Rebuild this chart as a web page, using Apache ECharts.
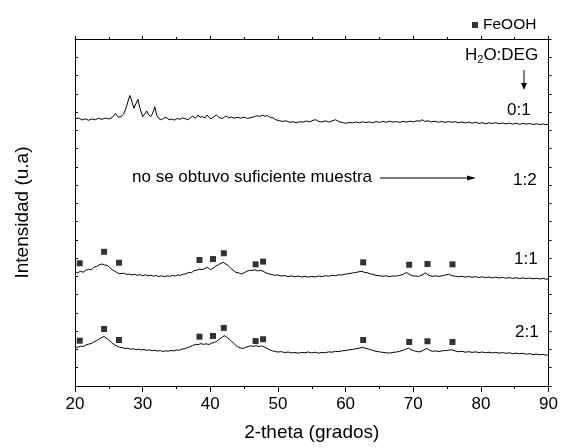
<!DOCTYPE html>
<html>
<head>
<meta charset="utf-8">
<script src="https://cdn.jsdelivr.net/npm/echarts@6/dist/echarts.min.js"></script>
<style>
  html, body { margin: 0; padding: 0; background: #fff; }
  #chart { width: 561px; height: 448px; }
</style>
</head>
<body>
<div id="chart"></div>
<script>
// 2-theta (deg) / intensity (a.u., patterns already stacked)
const trace01 = [
  [20, 1462], [20.5, 1468], [21, 1457], [21.5, 1463], [22, 1455], [22.5, 1462], [23, 1458],
  [23.5, 1466], [24, 1460], [24.5, 1467], [25, 1462], [25.5, 1470], [26, 1493], [26.4, 1472],
  [26.8, 1475], [27.2, 1489], [27.6, 1529], [28.1, 1591], [28.4, 1560], [28.7, 1521],
  [29.3, 1570], [29.6, 1520], [30, 1475], [30.3, 1488], [30.6, 1506], [30.9, 1484],
  [31.2, 1475], [31.5, 1495], [31.8, 1529], [32.1, 1480], [32.4, 1464], [32.8, 1458],
  [33.1, 1466], [33.5, 1471], [33.9, 1458], [34.3, 1462], [34.7, 1456], [35.1, 1465],
  [35.5, 1460], [35.9, 1468], [36.3, 1463], [36.7, 1458], [37.1, 1470], [37.4, 1478],
  [37.8, 1466], [38.2, 1484], [38.5, 1470], [38.8, 1476], [39.2, 1468], [39.5, 1484],
  [39.8, 1472], [40.1, 1463], [40.5, 1474], [40.9, 1484], [41.3, 1470], [41.8, 1465],
  [42.3, 1479], [42.7, 1468], [43.1, 1473], [43.5, 1466], [44, 1471], [44.5, 1467],
  [45, 1472], [45.5, 1465], [46, 1470], [46.5, 1474], [46.9, 1480], [47.3, 1476],
  [47.7, 1483], [48.1, 1477], [48.5, 1480], [48.9, 1470], [49.3, 1468], [49.7, 1458],
  [50.2, 1452], [50.7, 1449], [51.2, 1452], [51.7, 1444], [52.2, 1447], [52.7, 1441],
  [53.2, 1447], [53.7, 1445], [54.2, 1451], [54.7, 1446], [55.2, 1455], [55.6, 1458],
  [56, 1449], [56.5, 1446], [57, 1452], [57.5, 1445], [58, 1451], [58.5, 1458], [59, 1448],
  [59.5, 1443], [60, 1438], [60.5, 1444], [61, 1440], [61.5, 1446], [62, 1441], [62.5, 1447],
  [63, 1442], [63.5, 1446], [64, 1441], [64.5, 1448], [65, 1443], [65.5, 1449], [66, 1444],
  [66.5, 1450], [67, 1445], [67.5, 1448], [68, 1443], [68.5, 1449], [69, 1445], [69.5, 1450],
  [70, 1446], [70.5, 1452], [71, 1450], [71.3, 1458], [71.7, 1449], [72.2, 1452], [72.7, 1446],
  [73.2, 1450], [73.7, 1444], [74.2, 1449], [74.7, 1443], [75.2, 1448], [75.7, 1444],
  [76.2, 1447], [76.7, 1441], [77.2, 1446], [77.7, 1440], [78.2, 1445], [78.7, 1439],
  [79.2, 1444], [79.7, 1438], [80.2, 1442], [80.7, 1436], [81.2, 1441], [81.7, 1437],
  [82.2, 1442], [82.7, 1436], [83.2, 1440], [83.7, 1435], [84.2, 1440], [84.7, 1434],
  [85.2, 1439], [85.7, 1433], [86.2, 1438], [86.7, 1434], [87.2, 1437], [87.7, 1432],
  [88.2, 1436], [88.7, 1432], [89.2, 1435], [89.6, 1431], [90, 1433]
];
const trace11 = [
  [20, 626], [20.4, 620], [20.8, 628], [21.2, 623], [21.6, 634], [22, 639], [22.4, 636],
  [22.8, 650], [23.2, 655], [23.6, 664], [24, 668], [24.4, 662], [24.8, 660], [25.2, 646],
  [25.6, 634], [26, 626], [26.4, 617], [26.8, 615], [27.2, 618], [27.6, 611], [28, 613],
  [28.4, 608], [28.8, 612], [29.2, 606], [29.6, 610], [30, 604], [30.4, 609], [30.8, 603],
  [31.2, 607], [31.6, 601], [32, 605], [32.4, 599], [32.8, 604], [33.2, 598], [33.6, 603],
  [34, 600], [34.4, 606], [34.8, 602], [35.2, 608], [35.6, 606], [36, 612], [36.4, 614],
  [36.8, 622], [37.2, 620], [37.6, 632], [38, 634], [38.4, 640], [38.8, 637], [39.2, 644],
  [39.6, 650], [40, 637], [40.4, 645], [40.8, 656], [41.2, 664], [41.6, 672], [41.9, 677],
  [42.2, 670], [42.6, 661], [43, 646], [43.4, 633], [43.8, 622], [44.2, 619], [44.6, 614],
  [45, 620], [45.4, 628], [45.8, 634], [46.2, 632], [46.6, 637], [47, 630], [47.4, 634],
  [47.8, 628], [48.2, 620], [48.6, 614], [49, 611], [49.5, 606], [50, 608], [50.5, 602],
  [51, 605], [51.5, 599], [52, 603], [52.5, 598], [53, 602], [53.5, 597], [54, 601],
  [54.5, 596], [55, 600], [55.5, 597], [56, 602], [56.5, 599], [57, 604], [57.5, 601],
  [58, 606], [58.5, 604], [59, 609], [59.5, 608], [60, 613], [60.5, 615], [61, 619],
  [61.5, 621], [62, 626], [62.4, 628], [62.8, 622], [63.2, 620], [63.6, 614], [64, 612],
  [64.5, 606], [65, 604], [65.5, 601], [66, 603], [66.5, 599], [67, 603], [67.5, 601],
  [68, 606], [68.5, 611], [69, 622], [69.4, 612], [69.8, 604], [70.3, 602], [70.8, 600],
  [71.3, 608], [71.8, 620], [72.3, 606], [72.8, 601], [73.3, 603], [73.8, 600], [74.3, 604],
  [74.8, 608], [75.2, 612], [75.7, 605], [76.2, 601], [76.7, 598], [77.2, 601], [77.7, 596],
  [78.2, 600], [78.7, 595], [79.2, 599], [79.7, 594], [80.2, 598], [80.7, 593], [81.2, 597],
  [81.7, 592], [82.2, 596], [82.7, 591], [83.2, 595], [83.7, 590], [84.2, 594], [84.7, 589],
  [85.2, 593], [85.7, 588], [86.2, 592], [86.7, 588], [87.2, 591], [87.7, 587], [88.2, 590],
  [88.7, 586], [89.2, 589], [89.6, 585], [90, 586]
];
const trace21 = [
  [20, 215], [20.4, 211], [20.8, 218], [21.2, 216], [21.6, 224], [22, 229], [22.4, 233],
  [22.8, 241], [23.2, 248], [23.6, 258], [24, 266], [24.3, 271], [24.6, 262], [25, 252],
  [25.4, 238], [25.8, 226], [26.2, 219], [26.6, 212], [27, 210], [27.4, 205], [27.8, 207],
  [28.2, 201], [28.6, 204], [29, 199], [29.4, 202], [29.8, 197], [30.2, 200], [30.6, 195],
  [31, 198], [31.4, 193], [31.8, 196], [32.2, 191], [32.6, 194], [33, 189], [33.4, 193],
  [33.8, 190], [34.2, 195], [34.6, 192], [35, 197], [35.4, 196], [35.8, 202], [36.2, 204],
  [36.6, 210], [37, 215], [37.4, 222], [37.8, 228], [38.2, 226], [38.6, 232], [39, 228],
  [39.4, 231], [39.8, 227], [40.2, 235], [40.6, 238], [41, 246], [41.4, 258], [41.8, 270],
  [42.1, 275], [42.4, 268], [42.8, 257], [43.2, 243], [43.6, 229], [44, 216], [44.4, 209],
  [44.8, 206], [45.2, 211], [45.6, 216], [46, 220], [46.4, 217], [46.8, 221], [47.2, 216],
  [47.6, 219], [48, 213], [48.4, 206], [48.8, 198], [49.2, 192], [49.6, 189], [50, 186],
  [50.5, 188], [51, 183], [51.5, 186], [52, 181], [52.5, 184], [53, 180], [53.5, 184],
  [54, 182], [54.5, 186], [55, 181], [55.5, 185], [56, 180], [56.5, 184], [57, 182],
  [57.5, 187], [58, 185], [58.5, 190], [59, 188], [59.5, 193], [60, 194], [60.5, 198],
  [61, 200], [61.5, 204], [62, 207], [62.5, 212], [63, 206], [63.5, 201], [64, 195],
  [64.5, 190], [65, 187], [65.5, 184], [66, 182], [66.5, 180], [67, 184], [67.5, 186],
  [68, 190], [68.5, 196], [69, 203], [69.3, 207], [69.7, 199], [70.2, 192], [70.6, 188],
  [71, 187], [71.5, 196], [72, 206], [72.4, 197], [72.8, 190], [73.3, 192], [73.8, 189],
  [74.3, 193], [74.8, 194], [75.3, 197], [75.7, 198], [76.2, 192], [76.7, 188], [77.2, 190],
  [77.7, 185], [78.2, 188], [78.7, 184], [79.2, 187], [79.7, 183], [80.2, 186], [80.7, 182],
  [81.2, 185], [81.7, 181], [82.2, 184], [82.7, 180], [83.2, 183], [83.7, 179], [84.2, 182],
  [84.7, 177], [85.2, 180], [85.7, 176], [86.2, 179], [86.7, 174], [87.2, 177], [87.7, 172],
  [88.2, 175], [88.7, 171], [89.2, 173], [89.6, 169], [90, 170]
];
// FeOOH reflections marked above the 1:1 and 2:1 patterns
const feoohTheta = [20.7, 24.3, 26.5, 38.4, 40.4, 42.0, 46.7, 47.8, 62.6, 69.4, 72.1, 75.8];
const feooh11 = [672, 735, 675, 690, 695, 727, 666, 681, 677, 664, 668, 666];
const feooh21 = [248, 312, 252, 270, 274, 318, 246, 256, 252, 241, 245, 241];

const chart = echarts.init(document.getElementById('chart'));
const font = '"Liberation Sans", Arial, sans-serif';

const feoohData = feoohTheta.map((t, i) => [t, feooh11[i]])
  .concat(feoohTheta.map((t, i) => [t, feooh21[i]]));

const lineSeries = (name, data) => ({
  name: name,
  type: 'line',
  data: data,
  showSymbol: false,
  silent: true,
  lineStyle: { color: '#000', width: 1 },
  itemStyle: { color: '#000' }
});

const label = (text, left, top) => ({
  type: 'text', left: left, top: top,
  style: { text: text, fontSize: 17, fontFamily: font, fill: '#000' }
});

chart.setOption({
  animation: false,
  textStyle: { fontFamily: font, color: '#000' },
  grid: { left: 75, right: 11, top: 39, bottom: 62 },
  legend: {
    data: [{ name: 'FeOOH', icon: 'rect' }],
    left: 467, top: 12,
    itemWidth: 6, itemHeight: 6, itemGap: 10,
    textStyle: { fontSize: 15.5, fontFamily: font, color: '#000' }
  },
  xAxis: [{
    type: 'value', min: 20, max: 90, interval: 10,
    name: '2-theta (grados)', nameLocation: 'middle', nameGap: 37,
    nameTextStyle: { fontSize: 19, fontFamily: font, color: '#000' },
    axisLine: { show: true, onZero: false, lineStyle: { color: '#000', width: 1 } },
    axisTick: { inside: false, length: 6, lineStyle: { color: '#000' } },
    minorTick: { show: true, splitNumber: 2, length: 3, lineStyle: { color: '#000' } },
    axisLabel: { fontSize: 17, color: '#000', margin: 10, fontFamily: font },
    splitLine: { show: false }
  }, {
    type: 'value', min: 20, max: 90, interval: 10, position: 'top',
    axisLine: { show: true, onZero: false, lineStyle: { color: '#000', width: 1 } },
    axisTick: { inside: false, length: 3, lineStyle: { color: '#000' } },
    minorTick: { show: true, splitNumber: 2, length: 2, lineStyle: { color: '#000' } },
    axisLabel: { show: false },
    splitLine: { show: false }
  }],
  yAxis: [{
    type: 'value', min: 0, max: 1900, interval: 100,
    name: 'Intensidad (u.a)', nameLocation: 'middle', nameGap: 43,
    nameTextStyle: { fontSize: 19, fontFamily: font, color: '#000' },
    axisLine: { show: true, onZero: false, lineStyle: { color: '#000', width: 1 } },
    axisTick: { show: true, inside: true, length: 3, lineStyle: { color: '#000' } },
    axisLabel: { show: false },
    splitLine: { show: false }
  }, {
    type: 'value', min: 0, max: 1900, interval: 100, position: 'right',
    axisLine: { show: true, onZero: false, lineStyle: { color: '#000', width: 1 } },
    axisTick: { show: true, inside: false, length: 3, lineStyle: { color: '#000' } },
    axisLabel: { show: false },
    splitLine: { show: false }
  }],
  series: [
    lineSeries('0:1', trace01),
    lineSeries('1:1', trace11),
    lineSeries('2:1', trace21),
    {
      name: 'FeOOH',
      type: 'scatter',
      data: feoohData,
      symbol: 'rect',
      symbolSize: 6,
      itemStyle: { color: '#000' }
    }
  ],
  graphic: [
    {
      type: 'text', left: 465, top: 47,
      style: {
        text: 'H{sub|2}O:DEG',
        fontSize: 17, fontFamily: font, fill: '#000',
        rich: { sub: { fontSize: 11, fontFamily: font, padding: [9, 0, 0, 0] } }
      }
    },
    { type: 'line', shape: { x1: 524, y1: 70, x2: 524, y2: 84 }, style: { stroke: '#000', lineWidth: 1 } },
    { type: 'polygon', shape: { points: [[521, 83], [527, 83], [524, 90]] }, style: { fill: '#000' } },
    label('0:1', 507, 102),
    label('no se obtuvo suficiente muestra', 132, 169),
    { type: 'line', shape: { x1: 380, y1: 178, x2: 469, y2: 178 }, style: { stroke: '#000', lineWidth: 1 } },
    { type: 'polygon', shape: { points: [[467, 175.5], [467, 180.5], [476, 178]] }, style: { fill: '#000' } },
    label('1:2', 513, 172),
    label('1:1', 514, 251),
    label('2:1', 515, 324)
  ]
});
</script>
</body>
</html>
